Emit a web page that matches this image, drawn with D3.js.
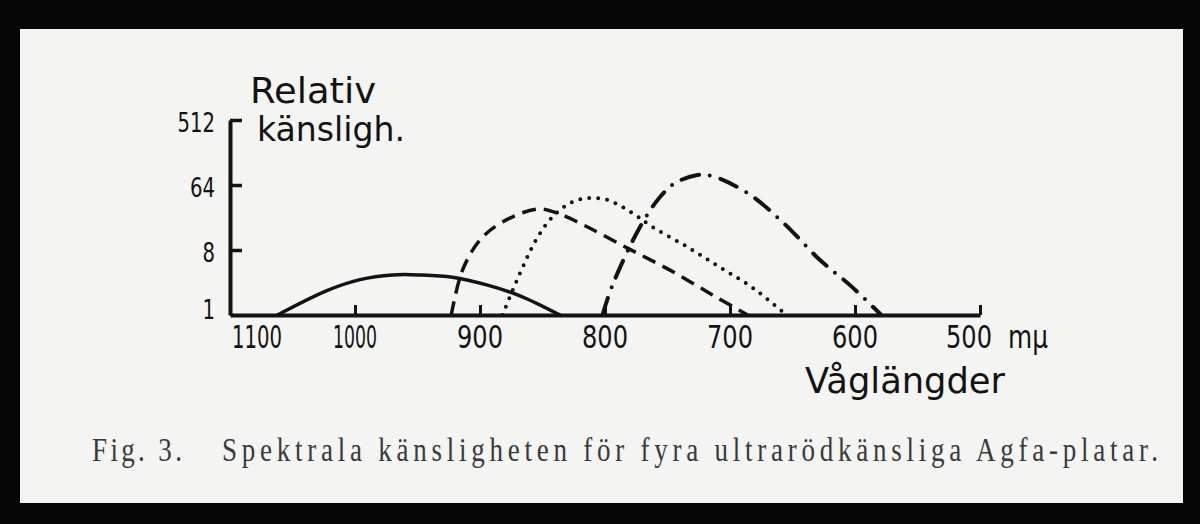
<!DOCTYPE html>
<html>
<head>
<meta charset="utf-8">
<script src="https://cdn.jsdelivr.net/npm/d3@7"></script>
<style>
  html, body { margin: 0; padding: 0; background: #060606; }
  svg { display: block; }
</style>
</head>
<body>
<div id="chart"></div>
<script>
// values: wavelength in mµ, relative sensitivity (log2 axis)
const xTicks = [1100, 1000, 900, 800, 700, 600, 500];
const yTicks = [1, 8, 64, 512];

const solidWave = [1062, 1022, 996, 970, 948, 922, 894, 868, 836];
const solidSens = [1, 2.2, 3.1, 3.6, 3.6, 3.35, 2.6, 1.85, 1];

const dashedWave = [923, 914, 900, 882, 854, 838, 814, 782, 748, 714, 686];
const dashedSens = [1, 4.2, 11, 19.6, 29.7, 26, 16.7, 8.5, 4.2, 1.9, 1];

const dottedWave = [882, 868, 854, 842, 828, 814, 798, 778, 762, 734, 708, 682, 655];
const dottedSens = [1, 3.8, 12, 23, 36, 42, 39.6, 26, 16.7, 8.8, 4.6, 2.4, 1];

const dashDotWave = [802, 794, 772, 756, 744, 726, 714, 686, 658, 628, 604, 579];
const dashDotSens = [1, 2.6, 16.7, 43.6, 68, 88, 85, 49.5, 19.6, 5.8, 2.6, 1];

const series = [
  { name: "solid", wave: solidWave, sens: solidSens, dash: null, cap: "round" },
  { name: "dashed", wave: dashedWave, sens: dashedSens, dash: "14 8", cap: "butt" },
  { name: "dotted", wave: dottedWave, sens: dottedSens, dash: "0 9", cap: "round" },
  { name: "dashdot", wave: dashDotWave, sens: dashDotSens, dash: "18 11 0 11", cap: "round" }
];

const width = 1200, height = 524;
const ink = "#131313";

const svg = d3.select("#chart").append("svg")
  .attr("width", width)
  .attr("height", height);

// the slide: black frame and paper
svg.append("rect").attr("width", width).attr("height", height).attr("fill", "#060606");
svg.append("rect")
  .attr("x", 20).attr("y", 29)
  .attr("width", 1163).attr("height", 474)
  .attr("fill", "#f4f4f2");

const xScale = d3.scaleLinear()
  .domain([1100, 500])
  .range([230, 980]);

const yScale = d3.scaleLog()
  .base(2)
  .domain([1, 512])
  .range([315, 120]);

// axes
const xAxis = d3.axisBottom(xScale)
  .tickValues(xTicks)
  .tickSizeInner(-10)
  .tickSizeOuter(0)
  .tickFormat("");

const yAxis = d3.axisLeft(yScale)
  .tickValues(yTicks.filter(d => d > 1))
  .tickSizeInner(-12)
  .tickSizeOuter(0)
  .tickFormat("");

const gx = svg.append("g")
  .attr("class", "x-axis")
  .attr("transform", `translate(0, ${yScale(1)})`)
  .call(xAxis);

const gy = svg.append("g")
  .attr("class", "y-axis")
  .attr("transform", `translate(${xScale(1100)}, 0)`)
  .call(yAxis);

gx.select(".domain").attr("stroke", ink).attr("stroke-width", 4);
gx.selectAll(".tick line").attr("stroke", ink).attr("stroke-width", 3);
gy.select(".domain").attr("stroke", ink).attr("stroke-width", 4);
gy.selectAll(".tick line").attr("stroke", ink).attr("stroke-width", 3.5);

// hand lettered labels
const lettering = "'DejaVu Sans', sans-serif";

svg.append("g")
  .selectAll("text")
  .data(xTicks)
  .join("text")
  .attr("x", d => d === 1100 ? xScale(d) + 2 : d === 500 ? xScale(d) - 11 : xScale(d))
  .attr("y", yScale(1) + 33)
  .attr("text-anchor", d => d === 1100 ? "start" : "middle")
  .attr("font-family", lettering)
  .attr("font-size", 32)
  .attr("fill", ink)
  .attr("textLength", d => d === 1100 ? 50 : d === 1000 ? 44 : 46)
  .attr("lengthAdjust", "spacingAndGlyphs")
  .text(d => d);

svg.append("text")
  .attr("x", xScale(500) + 28)
  .attr("y", yScale(1) + 33)
  .attr("font-family", lettering)
  .attr("font-size", 32)
  .attr("fill", ink)
  .attr("textLength", 40)
  .attr("lengthAdjust", "spacingAndGlyphs")
  .text("mµ");

svg.append("g")
  .selectAll("text")
  .data(yTicks)
  .join("text")
  .attr("x", xScale(1100) - 15)
  .attr("y", d => d === 1 ? yScale(d) + 4 : yScale(d) + 12)
  .attr("text-anchor", "end")
  .attr("font-family", lettering)
  .attr("font-size", 27)
  .attr("fill", ink)
  .attr("textLength", d => String(d).length * 12.5)
  .attr("lengthAdjust", "spacingAndGlyphs")
  .text(d => d);

svg.append("text")
  .attr("x", 250).attr("y", 103)
  .attr("font-family", lettering)
  .attr("font-size", 35)
  .attr("fill", ink)
  .attr("textLength", 126)
  .attr("lengthAdjust", "spacingAndGlyphs")
  .text("Relativ");

svg.append("text")
  .attr("x", 257).attr("y", 141)
  .attr("font-family", lettering)
  .attr("font-size", 34)
  .attr("fill", ink)
  .attr("textLength", 148)
  .attr("lengthAdjust", "spacingAndGlyphs")
  .text("känsligh.");

svg.append("text")
  .attr("x", 805).attr("y", 393)
  .attr("font-family", lettering)
  .attr("font-size", 36)
  .attr("fill", ink)
  .attr("textLength", 200)
  .attr("lengthAdjust", "spacingAndGlyphs")
  .text("Våglängder");

// curves
const line = d3.line()
  .x(d => xScale(d[0]))
  .y(d => yScale(d[1]))
  .curve(d3.curveCatmullRom.alpha(0.5));

svg.append("g")
  .selectAll("path")
  .data(series)
  .join("path")
  .attr("class", d => "curve " + d.name)
  .attr("fill", "none")
  .attr("stroke", ink)
  .attr("stroke-width", d => d.name === "solid" ? 3.5 : d.name === "dashed" ? 3.5 : 4)
  .attr("stroke-linecap", d => d.cap)
  .attr("stroke-dasharray", d => d.dash)
  .attr("d", d => line(d.wave.map((w, i) => [w, d.sens[i]])));

// printed caption, condensed type with open spacing
const printed = "'Liberation Serif', 'DejaVu Serif', serif";
const squeeze = 0.82;

const caption = svg.append("g")
  .attr("transform", `translate(0, 461) scale(${squeeze}, 1)`);

caption.append("text")
  .attr("x", 92 / squeeze)
  .attr("font-family", printed)
  .attr("font-size", 33)
  .attr("fill", "#3a3a3a")
  .attr("textLength", 90 / squeeze)
  .attr("lengthAdjust", "spacing")
  .text("Fig. 3.");

caption.append("text")
  .attr("x", 222 / squeeze)
  .attr("font-family", printed)
  .attr("font-size", 33)
  .attr("fill", "#3a3a3a")
  .attr("textLength", 936 / squeeze)
  .attr("lengthAdjust", "spacing")
  .text("Spektrala känsligheten för fyra ultrarödkänsliga Agfa-platar.");
</script>
</body>
</html>
